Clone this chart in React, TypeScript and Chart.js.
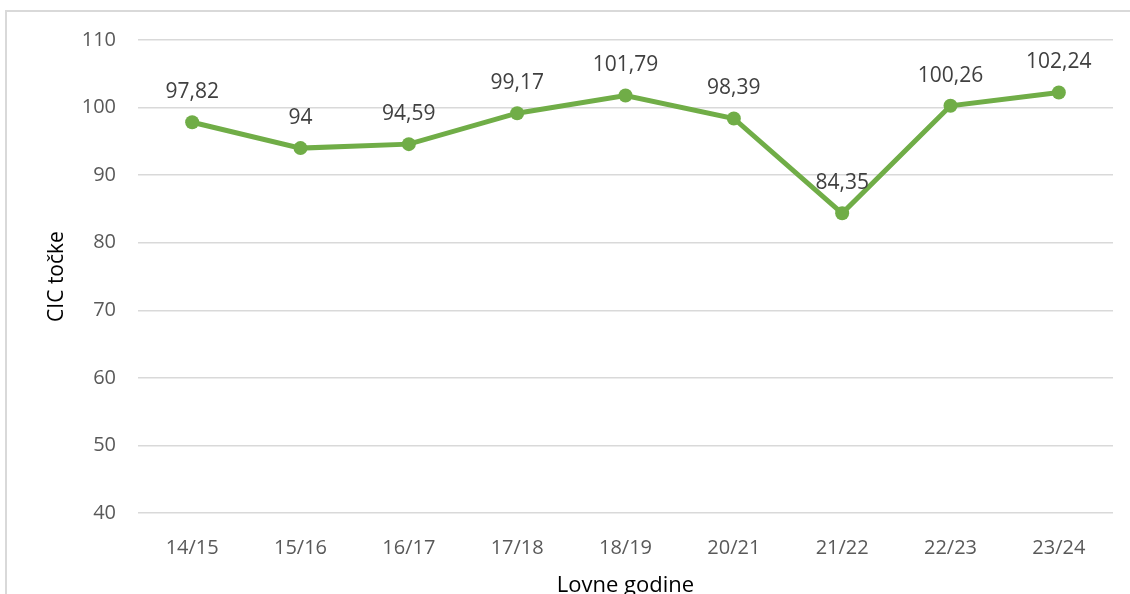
import React, { useEffect, useRef } from "react";
import { Chart, registerables } from "chart.js";

Chart.register(...registerables);

const seasons = ["14/15", "15/16", "16/17", "17/18", "18/19", "20/21", "21/22", "22/23", "23/24"];
const cicPoints = [97.82, 94, 94.59, 99.17, 101.79, 98.39, 84.35, 100.26, 102.24];
const yMin = 40;
const yMax = 110;
const yStep = 10;
const yTitle = "CIC točke";
const xTitle = "Lovne godine";

const FONT = "'Open Sans', sans-serif";

const fmt = (v: number) => String(v).replace(".", ",");

const labelPlugin = {
  id: "pointLabels",
  afterDatasetsDraw(chart: any) {
    const ctx = chart.ctx;
    const meta = chart.getDatasetMeta(0);
    ctx.save();
    ctx.font = `21px ${FONT}`;
    ctx.fillStyle = "#404040";
    ctx.textAlign = "center";
    ctx.textBaseline = "middle";
    meta.data.forEach((pt: any, i: number) => {
      ctx.fillText(fmt(cicPoints[i]), pt.x, pt.y - 30);
    });
    ctx.restore();
  },
};

export default function App() {
  const ref = useRef<HTMLCanvasElement>(null);
  useEffect(() => {
    document.body.style.margin = "0";
    const chart = new Chart(ref.current!, {
      type: "line",
      data: {
        labels: seasons,
        datasets: [
          {
            data: cicPoints,
            borderColor: "#70ad47",
            backgroundColor: "#70ad47",
            borderWidth: 5,
            pointRadius: 7,
            pointBorderWidth: 0,
            tension: 0,
          },
        ],
      },
      options: {
        animation: false,
        responsive: false,
        devicePixelRatio: 1,
        layout: { padding: { left: 0, right: 17, top: 40, bottom: 0 } },
        plugins: { legend: { display: false }, tooltip: { enabled: false } },
        scales: {
          x: {
            offset: true,
            grid: { display: false },
            border: { display: false },
            ticks: { color: "#595959", font: { family: FONT, size: 20 }, padding: 15, maxRotation: 0 },
            title: {
              display: true,
              text: xTitle,
              color: "#000000",
              font: { family: FONT, size: 22 },
              padding: { top: 0, bottom: 21 },
            },
            afterFit(scale: any) {
              scale.height = 620 - 513;
            },
          },
          y: {
            min: yMin,
            max: yMax,
            grid: { color: "#d9d9d9", lineWidth: 1.5, drawTicks: false },
            border: { display: false },
            ticks: { stepSize: yStep, color: "#595959", font: { family: FONT, size: 20 }, padding: 22 },
            title: {
              display: true,
              text: yTitle,
              color: "#000000",
              font: { family: FONT, size: 21 },
              padding: { top: 44, bottom: 0 },
            },
            afterFit(scale: any) {
              scale.width = 138;
            },
          },
        },
      },
      plugins: [labelPlugin],
    });
    return () => chart.destroy();
  }, []);
  return (
    <div style={{ position: "fixed", left: 0, top: 0, width: 1130, height: 594, overflow: "hidden", background: "#fff" }}>
      <div
        style={{
          position: "absolute",
          left: 5,
          top: 10,
          width: 1200,
          height: 700,
          border: "2px solid #d9d9d9",
        }}
      />
      <canvas ref={ref} width={1130} height={620} style={{ position: "absolute", left: 0, top: 0, width: 1130, height: 620 }} />
    </div>
  );
}
